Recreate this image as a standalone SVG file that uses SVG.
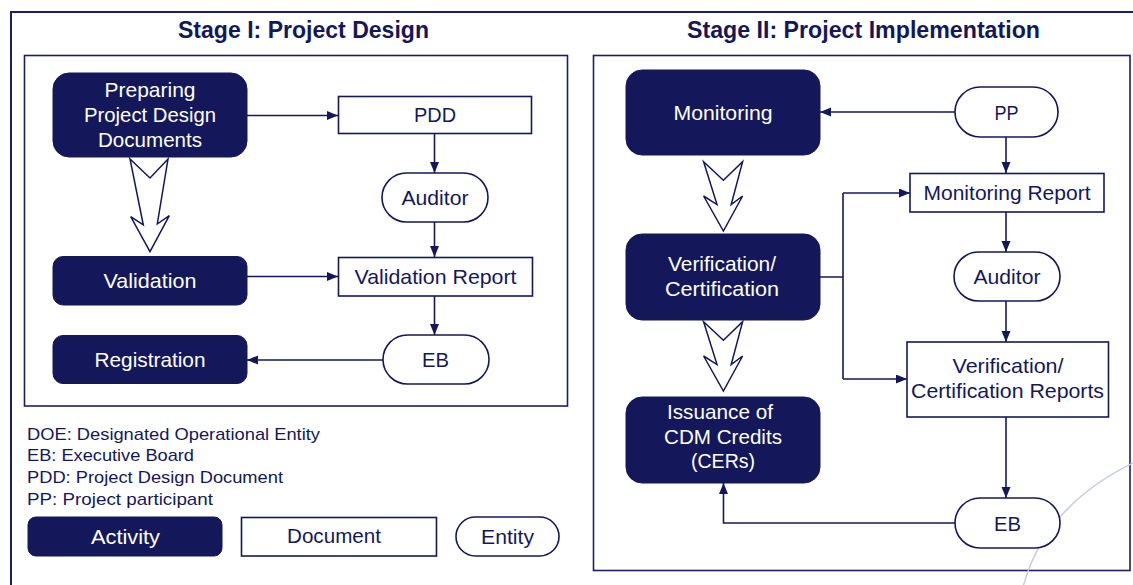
<svg xmlns="http://www.w3.org/2000/svg" width="1133" height="585" viewBox="0 0 1133 585">
  <defs>
    <marker id="tip" markerUnits="userSpaceOnUse" markerWidth="12" markerHeight="10" refX="11" refY="4.5" orient="auto">
      <path d="M0,0 L11,4.5 L0,9 z" fill="#14185a"/>
    </marker>
    <style>
      .frame { fill: none; stroke: #1b1f63; stroke-width: 2; }
      .panel { fill: none; stroke: #1b1f63; stroke-width: 1.6; }
      .act { fill: #14185a; stroke: #14185a; stroke-width: 1; }
      .doc { fill: #fff; stroke: #14185a; stroke-width: 1.6; }
      .ent { fill: #fff; stroke: #14185a; stroke-width: 1.6; }
      .big { fill: #fff; stroke: #14185a; stroke-width: 1.5; stroke-linejoin: miter; }
      .wire { fill: none; stroke: #14185a; stroke-width: 1.6; }
      text { font-family: "Liberation Sans", Arial, sans-serif; }
      .title { font-size: 24px; font-weight: bold; fill: #14185a; text-anchor: middle; }
      .lw { font-size: 21px; fill: #ffffff; text-anchor: middle; }
      .ld { font-size: 21px; fill: #14185a; text-anchor: middle; }
      .key { font-size: 17px; fill: #14185a; }
    </style>
  </defs>

  <rect width="1133" height="585" fill="#ffffff"/>

  <!-- page frame -->
  <path class="frame" d="M11,590 V12 H1140"/>

  <!-- stage panels -->
  <rect class="panel" x="24.5" y="55.5" width="543" height="350.5"/>
  <rect class="panel" x="593.5" y="55.5" width="536.5" height="515"/>

  <!-- decorative arc -->
  <path d="M1023,587 Q1045,505 1135,462" fill="none" stroke="#c8cbdd" stroke-width="1.5"/>

  <text class="title" x="303.5" y="38" textLength="251" lengthAdjust="spacingAndGlyphs">Stage I: Project Design</text>
  <text class="title" x="863.5" y="38" textLength="353" lengthAdjust="spacingAndGlyphs">Stage II: Project Implementation</text>

  <!-- connectors -->
  <g id="connectors">
    <path class="wire" d="M247,115.5 H338" marker-end="url(#tip)"/>
    <path class="wire" d="M434.5,133 V173" marker-end="url(#tip)"/>
    <path class="wire" d="M434.5,222 V257" marker-end="url(#tip)"/>
    <path class="wire" d="M247,276.5 H338" marker-end="url(#tip)"/>
    <path class="wire" d="M434.5,296 V335" marker-end="url(#tip)"/>
    <path class="wire" d="M383,360 H247" marker-end="url(#tip)"/>

    <path class="wire" d="M955,112 H820" marker-end="url(#tip)"/>
    <path class="wire" d="M1006,137 V173" marker-end="url(#tip)"/>
    <path class="wire" d="M1006,212 V252" marker-end="url(#tip)"/>
    <path class="wire" d="M820,277 H843 M843,193 V379"/>
    <path class="wire" d="M843,193 H910" marker-end="url(#tip)"/>
    <path class="wire" d="M843,379 H907" marker-end="url(#tip)"/>
    <path class="wire" d="M1006,301 V342" marker-end="url(#tip)"/>
    <path class="wire" d="M1006,417 V498" marker-end="url(#tip)"/>
    <path class="wire" d="M955,523 H723.5 V483" marker-end="url(#tip)"/>

    <!-- hollow flow arrows between activities -->
    <path class="big" d="M130,159 L150,178 L168,159 L157.3,224 L169.3,215.7 L150,251.7 L130.7,216.7 L143.3,225 Z"/>
    <path class="big" d="M703.6,161.7 L723.4,180.3 L742.6,161.7 L731.2,204.6 L742.6,196 L723.4,231 L703.6,196 L717,204.6 Z"/>
    <path class="big" d="M703.6,321.7 L723.4,340.3 L742.6,321.7 L731.2,364.6 L742.6,356 L723.4,391 L703.6,356 L717,364.6 Z"/>
  </g>

  <!-- Stage I nodes -->
  <g id="preparing">
    <rect class="act" x="53" y="73" width="194" height="84" rx="16"/>
    <text class="lw" x="150" y="97" textLength="91" lengthAdjust="spacingAndGlyphs">Preparing</text>
    <text class="lw" x="150" y="122" textLength="132" lengthAdjust="spacingAndGlyphs">Project Design</text>
    <text class="lw" x="150" y="147" textLength="104" lengthAdjust="spacingAndGlyphs">Documents</text>
  </g>
  <g id="pdd">
    <rect class="doc" x="338.5" y="96.5" width="193" height="37"/>
    <text class="ld" x="435" y="122" textLength="42" lengthAdjust="spacingAndGlyphs">PDD</text>
  </g>
  <g id="auditor1">
    <rect class="ent" x="382" y="173" width="106" height="49" rx="24.5"/>
    <text class="ld" x="435" y="205" textLength="67" lengthAdjust="spacingAndGlyphs">Auditor</text>
  </g>
  <g id="validation">
    <rect class="act" x="53" y="256.5" width="194" height="48.5" rx="10"/>
    <text class="lw" x="150" y="288" textLength="93" lengthAdjust="spacingAndGlyphs">Validation</text>
  </g>
  <g id="validation-report">
    <rect class="doc" x="338.5" y="257.5" width="194" height="38.5"/>
    <text class="ld" x="435.5" y="284" textLength="162" lengthAdjust="spacingAndGlyphs">Validation Report</text>
  </g>
  <g id="registration">
    <rect class="act" x="53" y="335.5" width="194" height="48" rx="10"/>
    <text class="lw" x="150" y="367" textLength="111" lengthAdjust="spacingAndGlyphs">Registration</text>
  </g>
  <g id="eb1">
    <rect class="ent" x="383" y="335" width="106" height="49" rx="24.5"/>
    <text class="ld" x="435.5" y="367" textLength="27" lengthAdjust="spacingAndGlyphs">EB</text>
  </g>

  <!-- abbreviations -->
  <g id="abbreviations">
    <text class="key" x="27" y="440" textLength="293" lengthAdjust="spacingAndGlyphs">DOE: Designated Operational Entity</text>
    <text class="key" x="27" y="461" textLength="167" lengthAdjust="spacingAndGlyphs">EB: Executive Board</text>
    <text class="key" x="27" y="483" textLength="256" lengthAdjust="spacingAndGlyphs">PDD: Project Design Document</text>
    <text class="key" x="27" y="505" textLength="186" lengthAdjust="spacingAndGlyphs">PP: Project participant</text>
  </g>

  <!-- shape key -->
  <g id="key-activity">
    <rect class="act" x="28" y="517" width="194" height="39" rx="8"/>
    <text class="lw" x="125.5" y="544" textLength="69" lengthAdjust="spacingAndGlyphs">Activity</text>
  </g>
  <g id="key-document">
    <rect class="doc" x="241.5" y="517.5" width="195" height="38.5"/>
    <text class="ld" x="334" y="543" textLength="94" lengthAdjust="spacingAndGlyphs">Document</text>
  </g>
  <g id="key-entity">
    <rect class="ent" x="456" y="517" width="103" height="39" rx="19.5"/>
    <text class="ld" x="507.5" y="544" textLength="53" lengthAdjust="spacingAndGlyphs">Entity</text>
  </g>

  <!-- Stage II nodes -->
  <g id="monitoring">
    <rect class="act" x="626" y="70" width="194" height="85" rx="16"/>
    <text class="lw" x="723" y="120" textLength="99" lengthAdjust="spacingAndGlyphs">Monitoring</text>
  </g>
  <g id="pp">
    <rect class="ent" x="955" y="87" width="103" height="50" rx="25"/>
    <text class="ld" x="1006.5" y="120" textLength="24" lengthAdjust="spacingAndGlyphs">PP</text>
  </g>
  <g id="monitoring-report">
    <rect class="doc" x="910" y="173.5" width="194" height="38.5"/>
    <text class="ld" x="1007" y="200" textLength="167" lengthAdjust="spacingAndGlyphs">Monitoring Report</text>
  </g>
  <g id="auditor2">
    <rect class="ent" x="954" y="252" width="106" height="49" rx="24.5"/>
    <text class="ld" x="1007" y="284" textLength="67" lengthAdjust="spacingAndGlyphs">Auditor</text>
  </g>
  <g id="verification">
    <rect class="act" x="626" y="234" width="194" height="86" rx="16"/>
    <text class="lw" x="722" y="271" textLength="108" lengthAdjust="spacingAndGlyphs">Verification/</text>
    <text class="lw" x="722" y="296" textLength="114" lengthAdjust="spacingAndGlyphs">Certification</text>
  </g>
  <g id="verification-reports">
    <rect class="doc" x="907" y="342" width="201.5" height="75"/>
    <text class="ld" x="1008" y="373" textLength="111" lengthAdjust="spacingAndGlyphs">Verification/</text>
    <text class="ld" x="1007.5" y="398" textLength="193" lengthAdjust="spacingAndGlyphs">Certification Reports</text>
  </g>
  <g id="issuance">
    <rect class="act" x="626" y="397" width="194" height="86" rx="16"/>
    <text class="lw" x="720" y="419" textLength="106" lengthAdjust="spacingAndGlyphs">Issuance of</text>
    <text class="lw" x="723" y="444" textLength="118" lengthAdjust="spacingAndGlyphs">CDM Credits</text>
    <text class="lw" x="723" y="468" textLength="64" lengthAdjust="spacingAndGlyphs">(CERs)</text>
  </g>
  <g id="eb2">
    <rect class="ent" x="955" y="498" width="105" height="50" rx="25"/>
    <text class="ld" x="1007.5" y="531" textLength="27" lengthAdjust="spacingAndGlyphs">EB</text>
  </g>
</svg>
